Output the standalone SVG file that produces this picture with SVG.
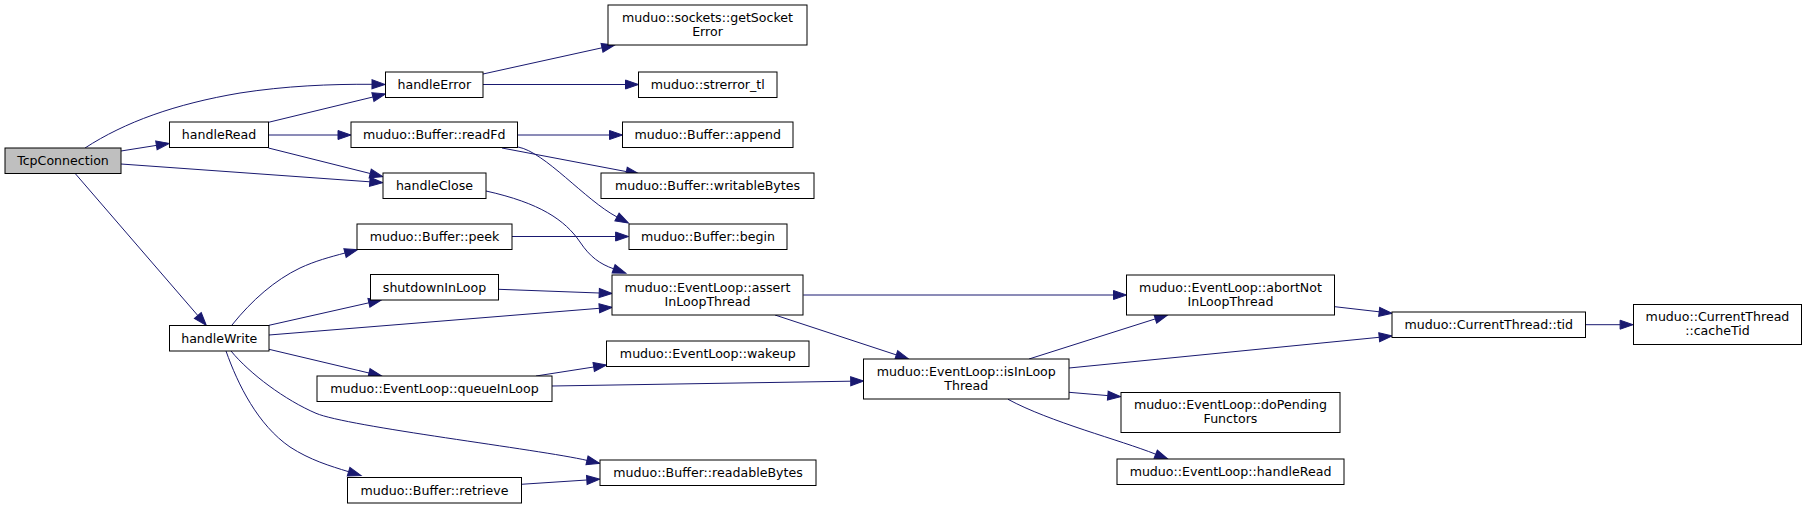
<svg xmlns="http://www.w3.org/2000/svg" width="1807" height="509" viewBox="0 0 1807 509">
<style>
.n rect{fill:#fff;stroke:#000;stroke-width:1}
.n.root rect{fill:#bfbfbf}
.n text{font-family:"DejaVu Sans","Liberation Sans",sans-serif;font-size:12.6px;fill:#000;text-anchor:middle}
#edges path{fill:none;stroke:#191970;stroke-width:1;marker-end:url(#ah)}
</style>
<defs>
<marker id="ah" markerUnits="userSpaceOnUse" markerWidth="13" markerHeight="9" refX="0" refY="4.5" orient="auto" viewBox="0 0 13 9" overflow="visible">
<path d="M0,0 L13,4.5 L0,9 z" fill="#191970" stroke="#191970" stroke-width="1"/>
</marker>
</defs>
<rect width="1807" height="509" fill="#fff"/>
<g id="edges">
<path d="M85,148 C125,122 175,104 240,93 C285,86 330,84 372,84.3"/>
<path d="M121,151 L156.4,145.4"/>
<path d="M121,164 L369.8,181.8"/>
<path d="M75,173.3 L197.8,315.5"/>
<path d="M268.5,122.3 L372.9,97"/>
<path d="M268.5,135 L338,135"/>
<path d="M268.5,148 L370.2,173.5"/>
<path d="M483,74 L602,47.8"/>
<path d="M483,84.5 L625.5,84.5"/>
<path d="M517.5,135 L609.5,135"/>
<path d="M502,148 L626.4,171.6"/>
<path d="M518,147 C545,152 585,200 617,217"/>
<path d="M486,191 C540,203 565,220 580,242 C590,257 600,264 613.6,268.8"/>
<path d="M512,236.5 L615.6,236.5"/>
<path d="M232,325 C252,300 275,280 300,268 C315,261 330,257 345,253"/>
<path d="M269,325.3 L368.9,302.8"/>
<path d="M269,335 L599.3,308.3"/>
<path d="M498.6,289.3 L599.2,293"/>
<path d="M269,349.3 L369,373"/>
<path d="M231,351 C250,374 285,400 316,413.3 C347,426.6 540,449.5 587,460.4"/>
<path d="M226,351 C238,385 258,425 290,447 C310,460 330,466 348.6,471.7"/>
<path d="M521.2,484.3 L586.8,480"/>
<path d="M536,376 L593.7,367"/>
<path d="M552,386 L850.7,381.2"/>
<path d="M803.3,295 L1113.5,295"/>
<path d="M775,315 L896.3,354.9"/>
<path d="M1029,359 L1155.3,318.9"/>
<path d="M1069,368 L1379.2,337.3"/>
<path d="M1069,392.3 L1107.8,395.6"/>
<path d="M1008,399.3 C1050,422 1120,440 1155.7,454.2"/>
<path d="M1334.7,306.7 L1379.2,311.8"/>
<path d="M1585.4,324.7 L1620.1,324.7"/>
</g>
<g id="n1" class="n root"><rect x="5" y="148" width="116" height="25.5"/><text x="63" y="165">TcpConnection</text></g>
<g id="n2" class="n"><rect x="169.5" y="122" width="99" height="25.5"/><text x="219" y="139">handleRead</text></g>
<g id="n3" class="n"><rect x="169.5" y="325.5" width="99.5" height="25.5"/><text x="219.25" y="342.5">handleWrite</text></g>
<g id="n4" class="n"><rect x="385.5" y="72" width="97.5" height="25.5"/><text x="434.25" y="89">handleError</text></g>
<g id="n5" class="n"><rect x="351" y="122" width="166.5" height="25.5"/><text x="434.25" y="139">muduo::Buffer::readFd</text></g>
<g id="n6" class="n"><rect x="383" y="173" width="103" height="25.5"/><text x="434.5" y="190">handleClose</text></g>
<g id="n7" class="n"><rect x="357" y="224" width="155" height="25.5"/><text x="434.5" y="241">muduo::Buffer::peek</text></g>
<g id="n8" class="n"><rect x="370.5" y="274.5" width="128" height="25.5"/><text x="434.5" y="291.5">shutdownInLoop</text></g>
<g id="n9" class="n"><rect x="317" y="376" width="235" height="25.5"/><text x="434.5" y="393">muduo::EventLoop::queueInLoop</text></g>
<g id="n10" class="n"><rect x="347.5" y="477.5" width="174" height="25.5"/><text x="434.5" y="494.5">muduo::Buffer::retrieve</text></g>
<g id="n11" class="n"><rect x="608" y="5" width="199" height="40"/><text x="707.5" y="21.5">muduo::sockets::getSocket</text><text x="707.5" y="35.5">Error</text></g>
<g id="n12" class="n"><rect x="638.5" y="72" width="138.5" height="25.5"/><text x="707.75" y="89">muduo::strerror_tl</text></g>
<g id="n13" class="n"><rect x="622.5" y="122" width="170.5" height="25.5"/><text x="707.75" y="139">muduo::Buffer::append</text></g>
<g id="n14" class="n"><rect x="601" y="173" width="213" height="25.5"/><text x="707.5" y="190">muduo::Buffer::writableBytes</text></g>
<g id="n15" class="n"><rect x="629" y="224" width="158" height="25.5"/><text x="708" y="241">muduo::Buffer::begin</text></g>
<g id="n16" class="n"><rect x="612" y="275" width="191" height="40"/><text x="707.5" y="291.5">muduo::EventLoop::assert</text><text x="707.5" y="305.5">InLoopThread</text></g>
<g id="n17" class="n"><rect x="606.5" y="341" width="202.5" height="25.5"/><text x="707.75" y="358">muduo::EventLoop::wakeup</text></g>
<g id="n18" class="n"><rect x="600" y="460" width="216" height="25.5"/><text x="708" y="477">muduo::Buffer::readableBytes</text></g>
<g id="n19" class="n"><rect x="863.5" y="359" width="205.5" height="40"/><text x="966.25" y="375.5">muduo::EventLoop::isInLoop</text><text x="966.25" y="389.5">Thread</text></g>
<g id="n20" class="n"><rect x="1126.5" y="275" width="208" height="40"/><text x="1230.5" y="291.5">muduo::EventLoop::abortNot</text><text x="1230.5" y="305.5">InLoopThread</text></g>
<g id="n21" class="n"><rect x="1121" y="392.5" width="219" height="40"/><text x="1230.5" y="409">muduo::EventLoop::doPending</text><text x="1230.5" y="423">Functors</text></g>
<g id="n22" class="n"><rect x="1117" y="459" width="227" height="25.5"/><text x="1230.5" y="476">muduo::EventLoop::handleRead</text></g>
<g id="n23" class="n"><rect x="1392" y="312" width="193.5" height="25.5"/><text x="1488.75" y="329">muduo::CurrentThread::tid</text></g>
<g id="n24" class="n"><rect x="1633.5" y="304.5" width="168" height="40"/><text x="1717.5" y="321">muduo::CurrentThread</text><text x="1717.5" y="335">::cacheTid</text></g>
</svg>
